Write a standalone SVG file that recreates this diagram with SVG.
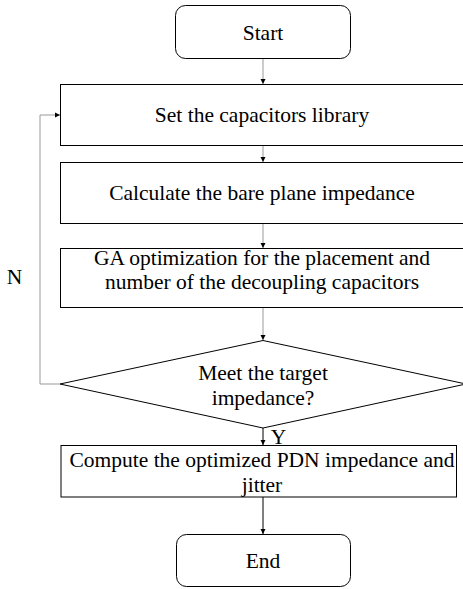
<svg xmlns="http://www.w3.org/2000/svg" width="463" height="589" viewBox="0 0 463 589">
<style>
.box{fill:#fff;stroke:#000;stroke-width:1}
.t{font-family:"Liberation Serif","Times New Roman",serif;font-size:21.5px;fill:#000;text-anchor:middle}
.c{fill:none;stroke:#999;stroke-width:1}
.k{fill:none;stroke:#000;stroke-width:1}
</style>
<defs>
<marker id="ah" markerWidth="6" markerHeight="6" refX="5" refY="3" orient="auto" markerUnits="userSpaceOnUse">
<path d="M0,0.5 L5,3 L0,5.5 Z" fill="#000"/>
</marker>
</defs>
<rect width="463" height="589" fill="#fff"/>
<g id="connectors">
<line class="c" x1="263" y1="58" x2="263" y2="84" marker-end="url(#ah)"/>
<line class="c" x1="263" y1="145" x2="263" y2="162" marker-end="url(#ah)"/>
<line class="c" x1="263" y1="223" x2="263" y2="248" marker-end="url(#ah)"/>
<line class="c" x1="263" y1="307" x2="263" y2="340" marker-end="url(#ah)"/>
<polyline class="c" points="60,384 40,384 40,115 60,115" marker-end="url(#ah)"/>
<line class="k" x1="263" y1="428" x2="263" y2="445" marker-end="url(#ah)"/>
<line class="k" x1="263" y1="497" x2="263" y2="534" marker-end="url(#ah)"/>
<text class="t" x="14.5" y="284">N</text>
<text class="t" x="278.5" y="444">Y</text>
</g>
<g id="start">
<rect class="box" x="175.5" y="5.5" width="175" height="53" rx="10"/>
<text class="t" x="263" y="40">Start</text>
</g>
<g id="set">
<rect class="box" x="60.5" y="84.5" width="420" height="61"/>
<text class="t" x="262" y="121.5">Set the capacitors library</text>
</g>
<g id="calc">
<rect class="box" x="60.5" y="162.5" width="420" height="61"/>
<text class="t" x="262" y="200">Calculate the bare plane impedance</text>
</g>
<g id="ga">
<rect class="box" x="60.5" y="248.5" width="420" height="59"/>
<text class="t" x="262" y="265">GA optimization for the placement and</text>
<text class="t" x="262" y="289">number of the decoupling capacitors</text>
</g>
<g id="decision">
<polygon class="box" points="263,340.5 466,384 263,428 60,384"/>
<text class="t" x="263" y="380">Meet the target</text>
<text class="t" x="263" y="405">impedance?</text>
</g>
<g id="compute">
<rect class="box" x="61" y="445.5" width="395.5" height="51.5"/>
<text class="t" x="262" y="467">Compute the optimized PDN impedance and</text>
<text class="t" x="262" y="492">jitter</text>
</g>
<g id="end">
<rect class="box" x="176.5" y="534.5" width="174" height="52" rx="10"/>
<text class="t" x="263" y="568">End</text>
</g>
</svg>
